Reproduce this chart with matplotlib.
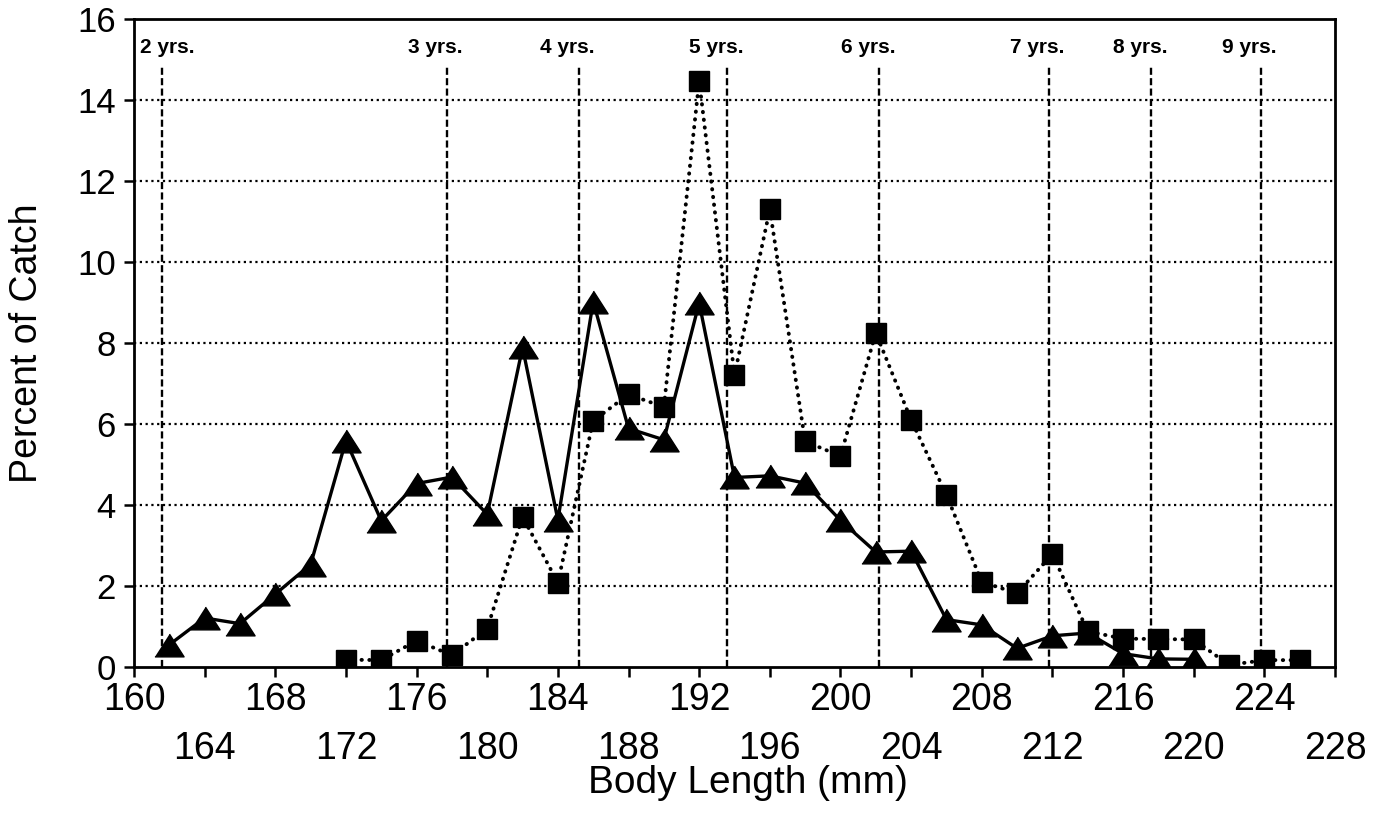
import matplotlib.pyplot as plt
from matplotlib.ticker import FixedLocator, FixedFormatter

plt.rcParams.update({
    "font.family": ["Liberation Sans", "DejaVu Sans"],
    "font.size": 24,
})

# Percent of catch by body length (solid line, triangles)
length_tri = [162, 164, 166, 168, 170, 172, 174, 176, 178, 180,
              182, 184, 186, 188, 190, 192, 194, 196, 198, 200,
              202, 204, 206, 208, 210, 212, 214, 216, 218, 220]
pct_tri = [0.55, 1.21, 1.07, 1.80, 2.53, 5.59, 3.61, 4.53, 4.69, 3.77,
           7.89, 3.63, 9.02, 5.89, 5.61, 8.99, 4.68, 4.72, 4.54, 3.62,
           2.84, 2.86, 1.17, 1.04, 0.46, 0.77, 0.84, 0.33, 0.20, 0.19]

# Percent of catch by body length (dotted line, squares)
length_sq = [172, 174, 176, 178, 180, 182, 184, 186, 188, 190,
             192, 194, 196, 198, 200, 202, 204, 206, 208, 210,
             212, 214, 216, 218, 220, 222, 224, 226]
pct_sq = [0.18, 0.17, 0.65, 0.29, 0.95, 3.71, 2.08, 6.08, 6.73, 6.42,
          14.47, 7.21, 11.30, 5.57, 5.21, 8.25, 6.10, 4.25, 2.10, 1.82,
          2.79, 0.88, 0.70, 0.69, 0.68, 0.05, 0.17, 0.17]

# Age marks
age_labels = ["2 yrs.", "3 yrs.", "4 yrs.", "5 yrs.", "6 yrs.", "7 yrs.", "8 yrs.", "9 yrs."]
age_lengths = [161.6, 177.7, 185.2, 193.6, 202.2, 211.8, 217.6, 223.8]

# x tick labels on two staggered rows
xticks_upper = [160, 168, 176, 184, 192, 200, 208, 216, 224]
xticks_lower = [164, 172, 180, 188, 196, 204, 212, 220, 228]
yticks = [0, 2, 4, 6, 8, 10, 12, 14, 16]

fig = plt.figure(figsize=(13.91, 8.14), dpi=100)
ax = fig.add_axes([134 / 1391, 1 - 667 / 814, 1201 / 1391, 648 / 814])

ax.set_xlim(160, 228)
ax.set_ylim(0, 16)

# horizontal dotted grid
for y in yticks[1:-1]:
    ax.axhline(y, color="black", lw=1.6, linestyle=(0, (1, 1.6)), zorder=1)

# age lines and labels
ax.vlines(age_lengths, 0, 14.85, color="black", lw=1.7,
          linestyles=[(0, (3, 1.4))], zorder=1)
for lab, x in zip(age_labels, age_lengths):
    dx = -0.65 if x > 165 else 0.3
    ax.text(x + dx, 15.3, lab, ha="center", va="center", fontsize=15,
            fontweight="bold")

# series
tri_marker = [(-1, -0.78), (1, -0.78), (0, 0.78)]
ax.plot(length_tri, pct_tri, color="black", lw=2.4, marker=tri_marker,
        markersize=21, markerfacecolor="black", markeredgecolor="black", zorder=3)
ax.plot(length_sq, pct_sq, color="black", lw=2.8, linestyle=(0, (0.1, 1.9)),
        dash_capstyle="round", marker="s", markersize=15,
        markerfacecolor="black", markeredgecolor="black", zorder=4)

# ticks
ax.xaxis.set_major_locator(FixedLocator(xticks_upper))
ax.xaxis.set_major_formatter(FixedFormatter([str(v) for v in xticks_upper]))
ax.xaxis.set_minor_locator(FixedLocator(xticks_lower))
ax.xaxis.set_minor_formatter(FixedFormatter([str(v) for v in xticks_lower]))
ax.set_yticks(yticks)
ax.tick_params(axis="both", which="both", direction="out", length=7, width=1.8,
               color="black")
ax.tick_params(axis="x", which="both", labelsize=27)
ax.tick_params(axis="x", which="major", pad=4)
ax.tick_params(axis="x", which="minor", pad=39)
ax.tick_params(axis="y", labelsize=25, pad=6)

for spine in ax.spines.values():
    spine.set_linewidth(2.0)

ax.set_xlabel("Body Length (mm)", fontsize=28)
ax.set_ylabel("Percent of Catch", fontsize=27)
ax.xaxis.set_label_coords(0.511, -0.152)
ax.yaxis.set_label_coords(-0.074, 0.5)

fig.savefig("out.png", dpi=100, facecolor="white")
